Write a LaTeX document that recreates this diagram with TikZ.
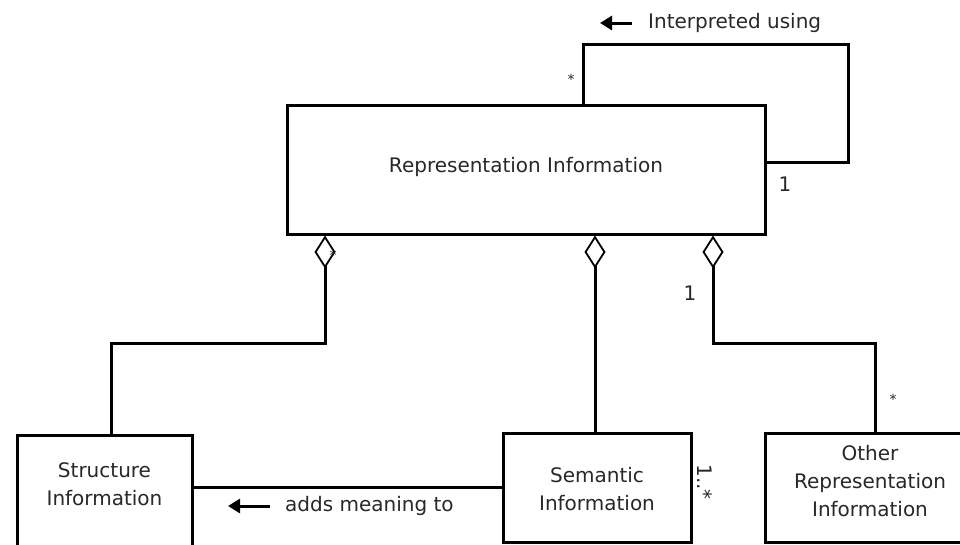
\documentclass[tikz,border=0pt]{standalone}
\usepackage{fontspec}
\setmainfont{DejaVu Sans}
\usetikzlibrary{arrows.meta,calc}
\definecolor{txt}{RGB}{40,40,40}
\begin{document}
\begin{tikzpicture}[x=1pt,y=-1pt,
  box/.style={draw=black,line width=3pt,fill=white,inner sep=0pt},
  conn/.style={draw=black,line width=3pt},
  lbl/.style={text=txt,font=\fontsize{20}{28}\selectfont,inner sep=0pt,align=center},
  small/.style={text=txt,font=\fontsize{14}{16}\selectfont,inner sep=0pt},
  agg/.style={conn,{Diamond[open,length=33pt,width=21pt,line width=1.8pt]}-},
  dirarrow/.style={draw=black,line width=3pt,-{Triangle[length=12pt,width=14pt]}}]
\useasboundingbox (0,0) rectangle (960,544);
\clip (0,0) rectangle (960,544);
% boxes
\node[box,minimum width=478pt,minimum height=129pt] (ri) at (526,169.5) {};
\node[lbl] (rit) at (526,167) {Representation Information};
\node[box,minimum width=175pt,minimum height=122pt,anchor=north] (st) at (104.5,434) {};
\node[lbl] (stt) at (104.5,484) {Structure\\Information};
\node[box,minimum width=188pt,minimum height=109pt] (se) at (597,487.5) {};
\node[lbl] (set) at (597,489) {Semantic\\Information};
\node[box,minimum width=210pt,minimum height=109pt] (ot) at (870,487.5) {};
\node[lbl] (ott) at (870,481) {Other\\Representation\\Information};
% self loop
\coordinate (lp1) at (583,44);
\coordinate (lp2) at (848,162);
\draw[conn] (ri.north -| lp1) -- (lp1) -| (lp2) -- (ri.east |- lp2);
\node[lbl,anchor=west] (iu) at (648,23) {Interpreted using};
\draw[dirarrow] ([xshift=-16pt]iu.west) -- ++(-32,0);
\node[small] (m1) at (571,79) {*};
\node[lbl] (m2) at (785,184) {1};
% aggregations
\coordinate (a1) at (325,343);
\coordinate (a2) at (595,343);
\coordinate (a3) at (713,343);
\coordinate (b1) at (111,343);
\coordinate (b3) at (875,343);
\draw[agg] (ri.south -| a1) -- (a1) -- (b1) -- (b1 |- st.north);
\draw[agg] (ri.south -| a2) -- (a2 |- se.north);
\draw[agg] (ri.south -| a3) -- (a3) -- (b3) -- (b3 |- ot.north);
\node[small] (m3) at (333,255) {*};
\node[lbl] (m4) at (690,293) {1};
\node[small] (m5) at (893,399) {*};
\node[lbl,rotate=-90] (m6) at (705,482) {1..*};
% adds meaning to
\draw[conn] (se.west) -- (se.west -| st.east);
\node[lbl,anchor=west] (am) at (285,506) {adds meaning to};
\draw[dirarrow] ([xshift=-15pt]am.west) -- ++(-42,0);
\end{tikzpicture}
\end{document}
